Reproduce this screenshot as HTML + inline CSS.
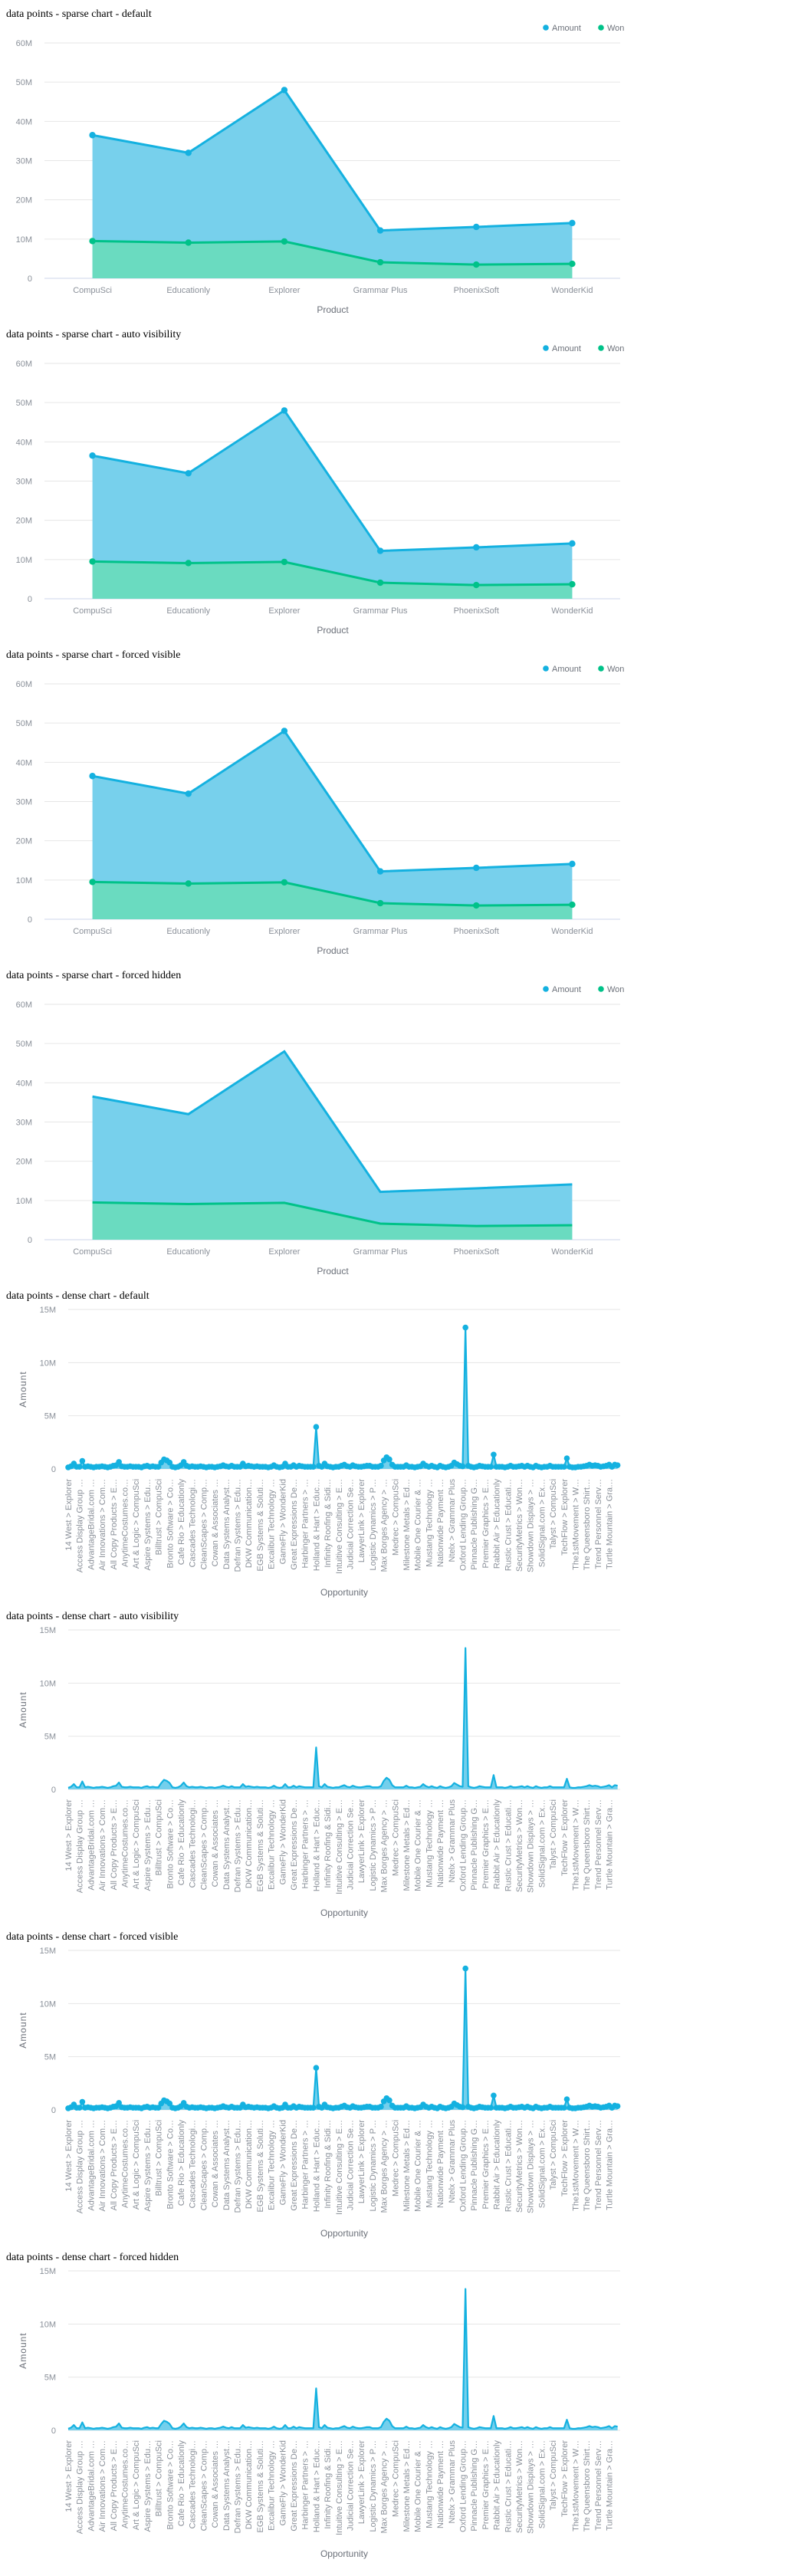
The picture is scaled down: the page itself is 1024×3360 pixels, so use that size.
<!DOCTYPE html>
<html><head><meta charset="utf-8"><title>data points charts</title>
<style>
html,body{margin:0;padding:0;background:#fff;}
svg{display:block;}
.ttl{font-family:"Liberation Serif",serif;font-size:14px;fill:#000;}
.tick{font-family:"Liberation Sans",sans-serif;font-size:11px;fill:#8a9099;}
.axt{font-family:"Liberation Sans",sans-serif;font-size:12px;fill:#6b7079;}
.leg{font-family:"Liberation Sans",sans-serif;font-size:11px;fill:#6b7079;}
</style></head>
<body>
<svg id="root" width="1024" height="3360" viewBox="0 0 1024 3360" xmlns="http://www.w3.org/2000/svg"></svg>
<script>
const sparseCategories = ["CompuSci","Educationly","Explorer","Grammar Plus","PhoenixSoft","WonderKid"];
const sparseAmount = [36.5, 32, 48, 12.2, 13.1, 14.1];
const sparseWon = [9.5, 9.1, 9.4, 4.1, 3.5, 3.7];
const sparseTicks = [0,10,20,30,40,50,60];
const sparseTickLabels = ["0","10M","20M","30M","40M","50M","60M"];
const denseTicks = [0,5,10,15];
const denseTickLabels = ["0","5M","10M","15M"];
const denseLabels = ["14 West > Explorer","Access Display Group …","AdvantageBridal.com …","Air Innovations > Com…","All Copy Products > E…","AnytimeCostumes.co…","Art & Logic > CompuSci","Aspire Systems > Edu…","Billtrust > CompuSci","Bronto Software > Co…","Cafe Rio > Educationly","Cascades Technologi…","CleanScapes > Comp…","Cowan & Associates …","Data Systems Analyst…","Defran Systems > Edu…","DKW Communication…","EGB Systems & Soluti…","Excalibur Technology …","GameFly > WonderKid","Great Expressions De…","Harbinger Partners > …","Holland & Hart > Educ…","Infinity Roofing & Sidi…","Intuitive Consulting > E…","Judicial Correction Se…","LawyerLink > Explorer","Logistic Dynamics > P…","Max Borges Agency > …","Medrec > CompuSci","Milestone Metals > Ed…","Mobile One Courier & …","Mustang Technology …","Nationwide Payment …","Ntelx > Grammar Plus","Oxford Lending Group…","Pinnacle Publishing G…","Premier Graphics > E…","Rabbit Air > Educationly","Rustic Crust > Educati…","SecurityMetrics > Won…","Showdown Displays > …","SolidSignal.com > Ex…","Talyst > CompuSci","TechFlow > Explorer","The1stMovement > W…","The Queensboro Shirt…","Trend Personnel Serv…","Turtle Mountain > Gra…"];
const denseValues = [
0.15,0.25,0.5,0.2,0.2,0.75,0.2,0.25,0.2,0.15,0.2,0.2,0.25,0.2,0.15,0.2,0.3,0.35,0.65,0.25,
0.2,0.2,0.25,0.2,0.2,0.2,0.15,0.25,0.3,0.2,0.25,0.2,0.2,0.6,0.9,0.8,0.6,0.2,0.15,0.2,
0.35,0.65,0.3,0.2,0.25,0.2,0.2,0.25,0.2,0.15,0.2,0.2,0.15,0.2,0.25,0.35,0.25,0.2,0.3,0.2,
0.2,0.2,0.5,0.25,0.3,0.25,0.2,0.25,0.2,0.2,0.2,0.15,0.2,0.35,0.2,0.15,0.2,0.5,0.2,0.2,
0.35,0.2,0.3,0.25,0.2,0.2,0.2,0.2,3.95,0.3,0.2,0.5,0.25,0.2,0.15,0.2,0.2,0.3,0.4,0.25,
0.2,0.35,0.25,0.2,0.2,0.25,0.3,0.3,0.2,0.2,0.2,0.3,0.8,1.1,0.9,0.4,0.2,0.2,0.2,0.2,
0.35,0.2,0.2,0.15,0.2,0.25,0.5,0.3,0.2,0.3,0.2,0.15,0.3,0.2,0.15,0.2,0.3,0.6,0.45,0.3,
0.25,13.3,0.3,0.2,0.15,0.2,0.3,0.25,0.2,0.2,0.2,1.35,0.2,0.2,0.2,0.15,0.2,0.3,0.2,0.2,
0.25,0.3,0.2,0.3,0.2,0.15,0.3,0.2,0.15,0.2,0.2,0.3,0.2,0.2,0.2,0.2,0.2,1.0,0.2,0.15,
0.15,0.2,0.2,0.25,0.3,0.4,0.3,0.35,0.3,0.2,0.25,0.3,0.4,0.2,0.4,0.35];
const sparseTitles = ["data points - sparse chart - default","data points - sparse chart - auto visibility","data points - sparse chart - forced visible","data points - sparse chart - forced hidden"];
const denseTitles = ["data points - dense chart - default","data points - dense chart - auto visibility","data points - dense chart - forced visible","data points - dense chart - forced hidden"];

const NS = "http://www.w3.org/2000/svg";
const root = document.getElementById('root');
const BLUE = "#14b1e0", BLUEF = "#74cfec", GREEN = "#00c289", GREENF = "#6adbbf";
function mk(tag, attrs, parent, text){
  const e = document.createElementNS(NS, tag);
  for (const k in attrs) e.setAttribute(k, attrs[k]);
  if (text !== undefined) e.textContent = text;
  (parent || root).appendChild(e);
  return e;
}

function sparse(k, markers){
  const T = 418*k;
  const g = mk('g', {});
  
  
  const t = mk('text', {x:8, y:T+22, class:'ttl'}, g, sparseTitles[k]);
  
  
  const x0 = 58, x1 = 809, yb = T+363, yt = T+56;
  const yS = v => yb - (v/60)*(yb-yt);
  const bw = (x1-x0)/sparseCategories.length;
  const xS = i => x0 + bw*(i+0.5);
  // legend
  [["Amount",712,BLUE],["Won",784,GREEN]].forEach(([n,x,c])=>{
    const lg = mk('g', {}, g);
    
    
    mk('circle', {cx:x, cy:T+36, r:3.8, fill:c}, lg);
    mk('text', {x:x+8, y:T+40, class:'leg'}, lg, n);
  });
  sparseTicks.forEach((v,i)=>{
    const y = yS(v);
    const gl = mk('line', {x1:x0, x2:x1, y1:y, y2:y, stroke: v===0 ? '#ccd6eb' : '#e6e6e6', 'stroke-width':1}, g);
    
    
    const tl = mk('text', {x:42, y:y+4, class:'tick', 'text-anchor':'end'}, g, sparseTickLabels[i]);
    
    
  });
  [[sparseAmount,BLUE,BLUEF,'amount'],[sparseWon,GREEN,GREENF,'won']].forEach(([data,c,f,n])=>{
    let d = '';
    data.forEach((v,i)=>{ d += (i?'L':'M') + xS(i) + ',' + yS(v); });
    const area = mk('path', {d: d + 'L' + xS(data.length-1) + ',' + yb + 'L' + xS(0) + ',' + yb + 'Z', fill:f, opacity:0.98}, g);
    
    
    const ln = mk('path', {d:d, fill:'none', stroke:c, 'stroke-width':3}, g);
    
    
    if (markers) data.forEach((v,i)=>{
      const p = mk('circle', {cx:xS(i), cy:yS(v), r:4.2, fill:c}, g);
      
      
    });
  });
  sparseCategories.forEach((c,i)=>{
    const cl = mk('text', {x:xS(i), y:T+382, class:'tick', 'text-anchor':'middle'}, g, c);
    
    
  });
  const xt = mk('text', {x:434, y:T+408, class:'axt', 'text-anchor':'middle'}, g, 'Product');
  
  
}

function dense(j, markers){
  const T = 418*(4+j);
  const g = mk('g', {});
  
  
  const t = mk('text', {x:8, y:T+22, class:'ttl'}, g, denseTitles[j]);
  
  
  const x0 = 89, step = 3.675, yb = T+244, yt = T+36;
  const yS = v => yb - (v/15)*(yb-yt);
  const xS = i => x0 + step*i;
  denseTicks.forEach((v,i)=>{
    const y = yS(v);
    const gl = mk('line', {x1:89, x2:809, y1:y, y2:y, stroke:'#e6e6e6', 'stroke-width':1}, g);
    
    
    const tl = mk('text', {x:73, y:y+4, class:'tick', 'text-anchor':'end'}, g, denseTickLabels[i]);
    
    
  });
  let d = '';
  denseValues.forEach((v,i)=>{ d += (i?'L':'M') + xS(i).toFixed(2) + ',' + yS(v).toFixed(2); });
  const area = mk('path', {d: d + 'L' + xS(denseValues.length-1) + ',' + yb + 'L' + x0 + ',' + yb + 'Z', fill:BLUEF}, g);
  
  
  const ln = mk('path', {d:d, fill:'none', stroke:BLUE, 'stroke-width':2.2, 'stroke-linejoin':'round'}, g);
  
  
  if (markers) denseValues.forEach((v,i)=>{
    const p = mk('circle', {cx:xS(i), cy:yS(v), r:3.8, fill:BLUE}, g);
    
    
  });
  denseLabels.forEach((s,i)=>{
    const x = xS(i*4), y = T+257;
    const tl = mk('text', {x:x, y:y, class:'tick', 'text-anchor':'end', transform:'rotate(-90 '+x+' '+y+') translate(0 4)'}, g, s);
    
    
  });
  const yt2 = mk('text', {x:30, y:T+140, class:'axt', 'text-anchor':'middle', 'letter-spacing':'1', transform:'rotate(-90 30 '+(T+140)+') translate(0 4)'}, g, 'Amount');
  
  
  const xt = mk('text', {x:449, y:T+409, class:'axt', 'text-anchor':'middle'}, g, 'Opportunity');
  
  
}

sparse(0, true); sparse(1, true); sparse(2, true); sparse(3, false);
dense(0, true); dense(1, false); dense(2, true); dense(3, false);
</script>
</body></html>
